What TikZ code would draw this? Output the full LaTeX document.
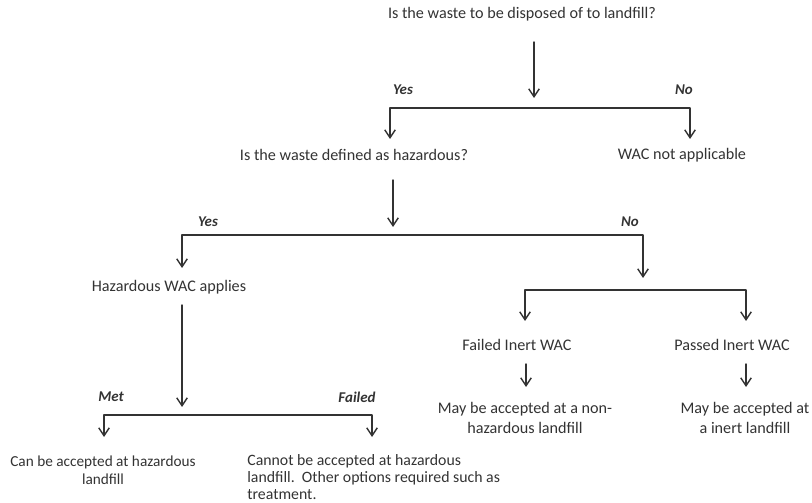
\documentclass[tikz,border=0pt]{standalone}
\usepackage{fontspec}
\setmainfont{Carlito}
\usetikzlibrary{arrows.meta}
\definecolor{inkgray}{HTML}{333333}

\begin{document}
\begin{tikzpicture}[x=0.02cm, y=-0.02cm, line cap=round, line join=round,
  txt/.style={font=\fontsize{9.2}{11}\selectfont, text=inkgray, inner sep=0pt},
  lbl/.style={font=\fontsize{8.5}{10}\selectfont\bfseries\itshape, text=inkgray, inner sep=0pt},
  stem/.style={draw=inkgray, line width=0.8pt, -{Straight Barb[length=4.5pt,width=6pt]}},
  fork/.style={draw=inkgray, line width=0.8pt, {Straight Barb[length=4.5pt,width=6pt]}-{Straight Barb[length=4.5pt,width=6pt]}}]

\useasboundingbox (0,0) rectangle (812,503);

% Questions and outcomes
\node[txt] (q1) at (522,14) {Is the waste to be disposed of to landfill?};
\node[txt] (q2) at (354,155) {Is the waste defined as hazardous?};
\node[txt] (na) at (682,155) {WAC not applicable};
\node[txt] (haz) at (169,287) {Hazardous WAC applies};
\node[txt] (fail) at (517,345) {Failed Inert WAC};
\node[txt] (pass) at (732,345) {Passed Inert WAC};
\node[txt, align=center] (nonhaz) at (525,418) {May be accepted at a non-\\hazardous landfill};
\node[txt, align=center] (inert) at (745,418) {May be accepted at\\a inert landfill};
\node[txt, align=center, font=\fontsize{8.7}{10}\selectfont] (acc) at (103,470) {Can be accepted at hazardous\\landfill};
\node[txt, align=left, anchor=west, font=\fontsize{9}{9.8}\selectfont] (rej) at (247,477)
  {Cannot be accepted at hazardous\\landfill.\ \ Other options required such as\\treatment.};

% Branch labels
\node[lbl] (yes1) at (403,90) {Yes};
\node[lbl] (no1) at (684,90) {No};
\node[lbl] (yes2) at (208,222) {Yes};
\node[lbl] (no2) at (630,222) {No};
\node[lbl] (met) at (111,397) {Met};
\node[lbl] (failed) at (357,397) {Failed};

% Stems and forks
\coordinate (s1) at (534,42);  \coordinate (t1) at (534,98);
\coordinate (s2) at (393,180); \coordinate (t2) at (393,227);
\coordinate (s3) at (182,305); \coordinate (t3) at (182,407);
\coordinate (s4) at (526,364); \coordinate (t4) at (526,387);
\coordinate (s5) at (746,364); \coordinate (t5) at (746,387);

\draw[stem] (s1) -- (t1);
\draw[stem] (s2) -- (t2);
\draw[stem] (s3) -- (t3);
\draw[stem] (s4) -- (t4);
\draw[stem] (s5) -- (t5);

\draw[fork] (390,139) -- (390,108) -- (690,108) -- (690,139);
\draw[fork] (182,268) -- (182,235) -- (643,235) -- (643,278);
\draw[fork] (525,321) -- (525,290) -- (746,290) -- (746,321);
\draw[fork] (104,437) -- (104,415) -- (372,415) -- (372,437);

\end{tikzpicture}
\end{document}
